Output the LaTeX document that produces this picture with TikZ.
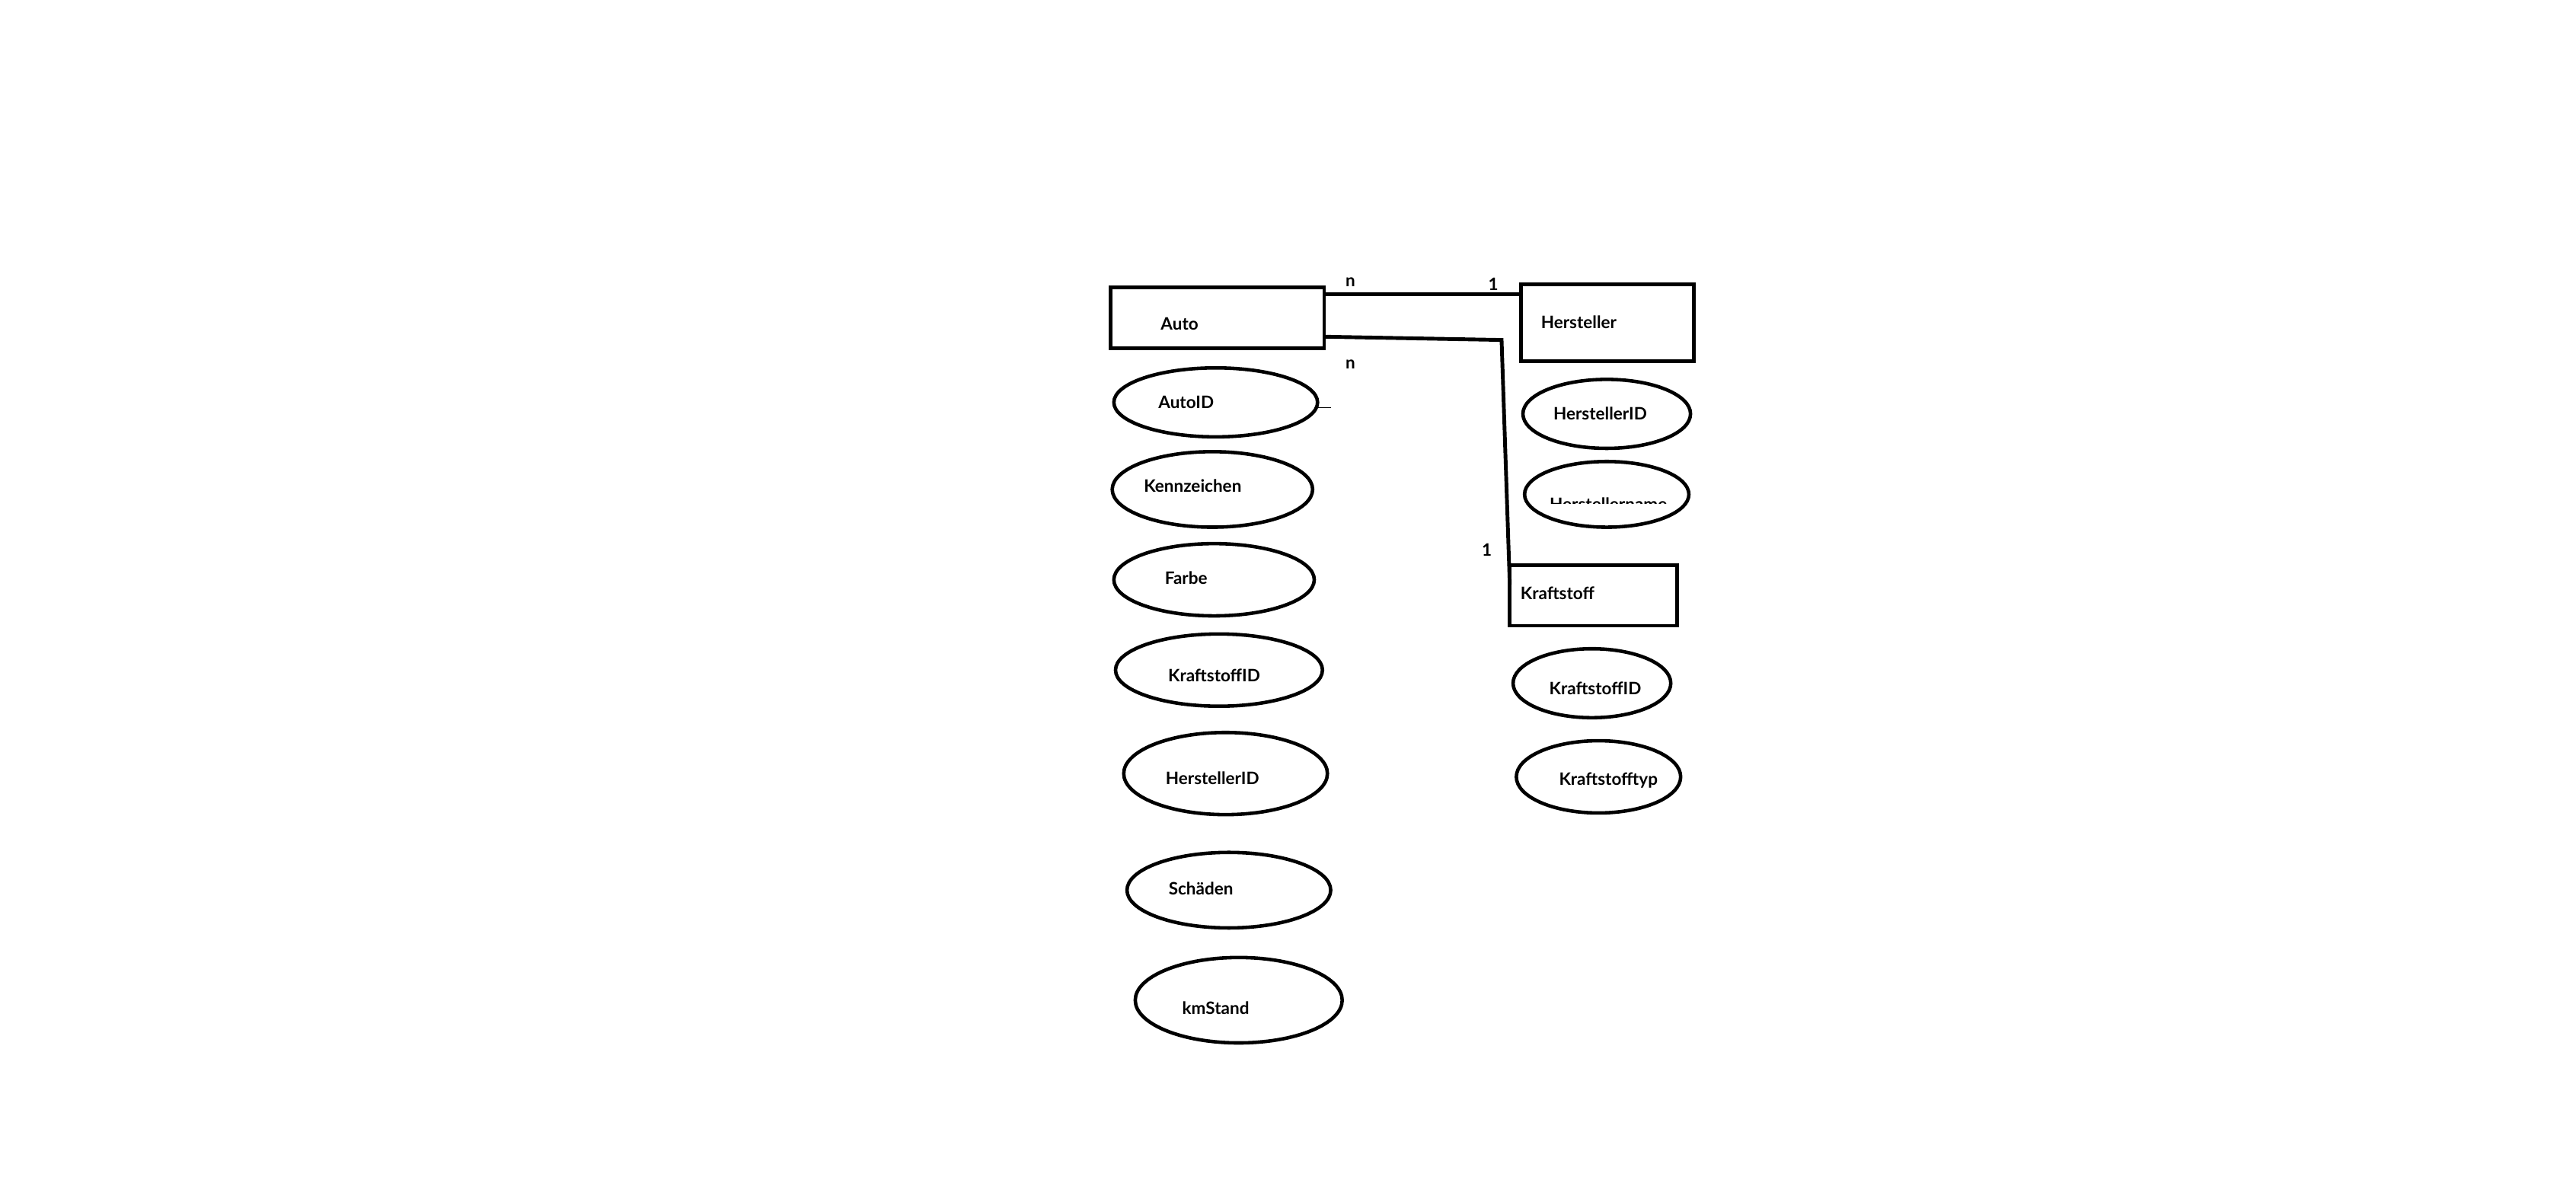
\documentclass[tikz,border=0pt]{standalone}
\usepackage{fontspec}
\setmainfont{Lato}
\usetikzlibrary{shapes.geometric,calc}
\begin{document}
\begin{tikzpicture}[x=0.021575cm,y=-0.021575cm,
  ent/.style={draw,line width=1.4pt,rectangle,inner sep=0pt,outer sep=0pt},
  attr/.style={draw,line width=1.3pt,ellipse,inner sep=0pt,outer sep=0pt},
  lbl/.style={font=\fontsize{6.4pt}{7pt}\selectfont\bfseries,inner sep=0pt},
  conn/.style={line width=1.4pt}]
\path[fill=white] (0,0) rectangle (1568,722);
\useasboundingbox (0,0) rectangle (1568,722);
% entities
\node[ent,minimum width=2.805cm,minimum height=0.798cm] (auto) at (741,193.5) {};
\node[ent,minimum width=2.265cm,minimum height=1.014cm] (hersteller) at (978.5,196.5) {};
\node[ent,minimum width=2.201cm,minimum height=0.798cm] (kraftstoff) at (970,362.5) {};
\node[lbl] (autoT) at (718,197) {Auto};
\node[lbl] (herstT) at (961,196) {Hersteller};
\node[lbl] (kraftT) at (948,361) {Kraftstoff};
% Auto attributes
\node[attr,minimum width=2.675cm,minimum height=0.906cm] (e1) at (740,245) {};
\node[attr,minimum width=2.632cm,minimum height=0.992cm] (e2) at (738,298) {};
\node[attr,minimum width=2.632cm,minimum height=0.949cm] (e3) at (739,353) {};
\node[attr,minimum width=2.718cm,minimum height=0.949cm] (e4) at (742,408) {};
\node[attr,minimum width=2.675cm,minimum height=1.079cm] (e5) at (746,471) {};
\node[attr,minimum width=2.675cm,minimum height=0.992cm] (e6) at (748,542) {};
\node[attr,minimum width=2.718cm,minimum height=1.122cm] (e7) at (754,609) {};
\node[lbl] (e1T) at (722,245) {AutoID};
\node[lbl] (e2T) at (726,296) {Kennzeichen};
\node[lbl] (e3T) at (722,352) {Farbe};
\node[lbl] (e4T) at (739,411) {KraftstoffID};
\node[lbl] (e5T) at (738,474) {HerstellerID};
\node[lbl] (e6T) at (731,541) {Schäden};
\node[lbl] (e7T) at (740,614) {kmStand};
% Hersteller attributes
\node[attr,minimum width=2.201cm,minimum height=0.906cm] (h1) at (978,252) {};
\node[attr,minimum width=2.158cm,minimum height=0.863cm] (h2) at (978,301) {};
\node[lbl] (h1T) at (974,252) {HerstellerID};
\begin{scope}
\clip (900,290) rectangle (1060,306.7);
\node[lbl,anchor=base] (h2T) at (979,311) {Herstellername};
\end{scope}
% Kraftstoff attributes
\node[attr,minimum width=2.071cm,minimum height=0.906cm] (k1) at (969,416) {};
\node[attr,minimum width=2.158cm,minimum height=0.949cm] (k2) at (973,473) {};
\node[lbl] (k1T) at (971,419) {KraftstoffID};
\node[lbl] (k2T) at (979,475) {Kraftstofftyp};
% relationships
\coordinate (a1) at ($(auto.north east)+(0,4)$);
\draw[conn] (a1) -- (a1 -| hersteller.west);
\coordinate (a2) at ($(auto.north east)+(0,30)$);
\coordinate (bend) at (914,207);
\draw[conn] (a2) -- (bend) -- ($(kraftstoff.north west)+(0,12)$);
\coordinate (tick) at ($(e1.east)+(0,3)$);
\draw[line width=0.3pt] (tick) -- ++(8,0);
% cardinalities
\node[lbl] (c1) at (822,172) {n};
\node[lbl] (c2) at (909,173) {1};
\node[lbl] (c3) at (822,222) {n};
\node[lbl] (c4) at (905,335) {1};
\end{tikzpicture}
\end{document}
